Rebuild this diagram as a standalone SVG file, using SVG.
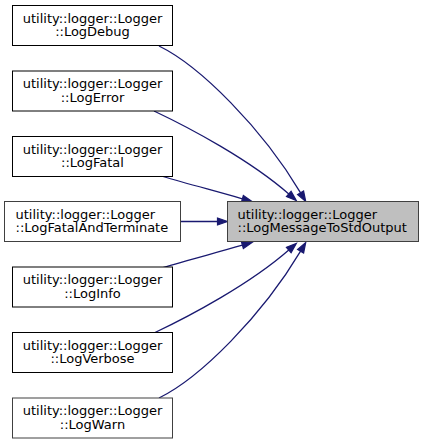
<svg xmlns="http://www.w3.org/2000/svg" width="424" height="444" viewBox="0 0 424 444">
<style>
.node rect{fill:#ffffff;stroke:#000000;stroke-width:1}
.node.dim rect{stroke:#404040}
.node.cur rect{fill:#bfbfbf;stroke:#404040}
text{font-family:"DejaVu Sans",Verdana,sans-serif;font-size:13px;fill:#000}
.c{text-anchor:middle}
.s{text-anchor:start}
#edges path{fill:none;stroke:#191970;stroke-width:1.3;marker-end:url(#arr)}
</style>
<defs>
<marker id="arr" markerUnits="userSpaceOnUse" viewBox="0 0 10 7" refX="0" refY="3.5" markerWidth="10" markerHeight="7" orient="auto" overflow="visible">
<path d="M0,0 L10,3.5 L0,7 z" fill="#191970" stroke="#191970" stroke-width="1.2"/>
</marker>
</defs>
<rect width="424" height="444" fill="#ffffff"/>
<g id="edges">
<path d="M159,46 C200,66 262,128 300.6,192.8"/>
<path d="M154,111 C190,128 250,160 288.8,194"/>
<path d="M163,176.5 C185,183 215,191 242.4,198.8"/>
<path d="M180.5,221.5 L217.5,221.5"/>
<path d="M163,267.5 C185,261 215,253 242.4,245.2"/>
<path d="M154,333 C190,316 250,284 288.8,250"/>
<path d="M159,398 C200,378 262,316 300.6,251.2"/>
</g>
<g id="node-target" class="node cur">
<rect x="227.5" y="201.5" width="191" height="40"/>
<text class="s" x="237.5" y="218.7">utility::logger::Logger</text>
<text class="s" x="237.5" y="232.4">::LogMessageToStdOutput</text>
</g>
<g id="node-logdebug" class="node">
<rect x="12.5" y="5.5" width="160" height="40"/>
<text class="c" x="92.5" y="22.7">utility::logger::Logger</text>
<text class="c" x="92.5" y="36.4">::LogDebug</text>
</g>
<g id="node-logerror" class="node">
<rect x="12.5" y="71" width="160" height="40"/>
<text class="c" x="92.5" y="88.2">utility::logger::Logger</text>
<text class="c" x="92.5" y="101.9">::LogError</text>
</g>
<g id="node-logfatal" class="node">
<rect x="12.5" y="136.5" width="160" height="40"/>
<text class="c" x="92.5" y="153.7">utility::logger::Logger</text>
<text class="c" x="92.5" y="167.4">::LogFatal</text>
</g>
<g id="node-logfatalandterminate" class="node dim">
<rect x="4.5" y="201.5" width="176" height="40"/>
<text class="s" x="15.5" y="218.7">utility::logger::Logger</text>
<text class="s" x="15.5" y="232.4">::LogFatalAndTerminate</text>
</g>
<g id="node-loginfo" class="node">
<rect x="12.5" y="267" width="160" height="40"/>
<text class="c" x="92.5" y="284.2">utility::logger::Logger</text>
<text class="c" x="92.5" y="297.9">::LogInfo</text>
</g>
<g id="node-logverbose" class="node">
<rect x="12.5" y="332.5" width="160" height="40"/>
<text class="c" x="92.5" y="349.7">utility::logger::Logger</text>
<text class="c" x="92.5" y="363.4">::LogVerbose</text>
</g>
<g id="node-logwarn" class="node dim">
<rect x="12.5" y="398" width="160" height="40"/>
<text class="c" x="92.5" y="415.2">utility::logger::Logger</text>
<text class="c" x="92.5" y="428.9">::LogWarn</text>
</g>
</svg>
